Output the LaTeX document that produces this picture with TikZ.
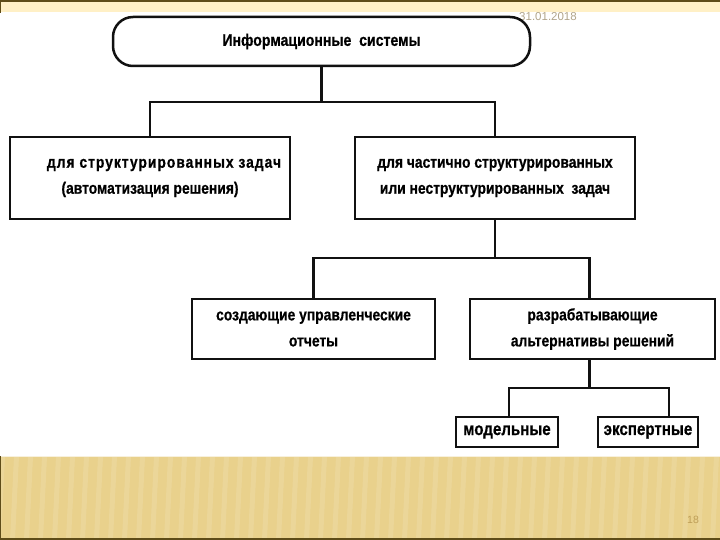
\documentclass[tikz,border=0pt]{standalone}
\usepackage{fontspec}
\setmainfont{Liberation Sans}
\newfontfamily\boxfont[FakeStretch=0.84, FakeBold=0.6]{Liberation Sans}
\definecolor{inkDark}{HTML}{111111}
\definecolor{bandTop}{HTML}{FFF0C6}
\definecolor{bandBottom}{HTML}{E9D18C}
\definecolor{bandEdge}{HTML}{5E4C18}
\definecolor{dateGray}{HTML}{B0A48A}
\definecolor{pageTan}{HTML}{BE9E58}
\usetikzlibrary{positioning}

\begin{document}
\begin{tikzpicture}[
    x=1pt, y=-1pt,
    card/.style={rectangle, draw=inkDark, line width=2.5pt, fill=white,
                 align=center, inner sep=0pt, font=\boxfont\bfseries\fontsize{16.5}{26}\selectfont},
    tag/.style={card, font=\boxfont\bfseries\fontsize{18}{20}\selectfont},
    wire/.style={draw=inkDark, line width=2.5pt}
  ]
    \useasboundingbox (0,0) rectangle (720,540);
    % slide frame
    \fill[bandTop] (0,0) rectangle (720,12);
    \draw[bandEdge, line width=1.5pt] (0,0.8) -- (720,0.8);
    \draw[bandEdge, line width=1.2pt] (0.6,0) -- (0.6,13);
    \fill[bandBottom] (0,456) rectangle (720,540);
    \foreach \x in {0,14,...,720}
      \fill[white, opacity=0.12] (\x,456) -- (\x+5,456) -- (\x+1,540) -- (\x-4,540) -- cycle;
    \draw[white!70!bandBottom, line width=1.5pt] (0,456.5) -- (720,456.5);
    \draw[bandEdge, line width=1.5pt] (0,539.2) -- (720,539.2);
    \draw[bandEdge, line width=1.2pt] (0.6,456) -- (0.6,540);
    \node[text=dateGray, font=\fontsize{11.5}{12}\selectfont] (date) at (548,17) {31.01.2018};
    \node[text=pageTan, font=\fontsize{10.5}{12}\selectfont] (page) at (693,520) {18};

    % boxes
    \node[card, rounded corners=20pt, minimum width=417pt, minimum height=49pt,
          font=\boxfont\bfseries\fontsize{16.8}{18}\selectfont] (info) at (321.5,41.5)
      {Информационные\ \ системы};
    \node[card, minimum width=280pt, minimum height=82pt] (struct) at (150,178)
      {\hspace*{28pt}{\addfontfeature{LetterSpace=6}для структурированных задач}\\(автоматизация решения)};
    \node[card, minimum width=280pt, minimum height=82pt] (semi) at (495,178)
      {для частично структурированных\\или неструктурированных\ \ задач};
    \node[card, minimum width=243pt, minimum height=60pt] (reports) at (313.5,329)
      {создающие управленческие\\отчеты};
    \node[card, minimum width=245pt, minimum height=60pt] (alts) at (592.5,329)
      {разрабатывающие\\альтернативы решений};
    \node[tag, minimum width=102pt, minimum height=30pt] (model) at (507,432) {модельные};
    \node[tag, minimum width=100pt, minimum height=30pt] (expert) at (648,432) {экспертные};

    % connectors
    \coordinate (j1) at (321.5,102);
    \coordinate (j2) at (495,258);
    \coordinate (j3) at (589.5,388);
    \draw[wire] (info) -- (j1);
    \draw[wire] (struct.north) |- (j1) -| (semi.north);
    \draw[wire] (semi) -- (j2);
    \draw[wire] (reports.north) |- (j2) -| ([xshift=-3pt]alts.north);
    \draw[wire] ([xshift=-3pt]alts.south) -- (j3);
    \draw[wire] ([xshift=2pt]model.north) |- (j3) -| ([xshift=21pt]expert.north);
\end{tikzpicture}
\end{document}
